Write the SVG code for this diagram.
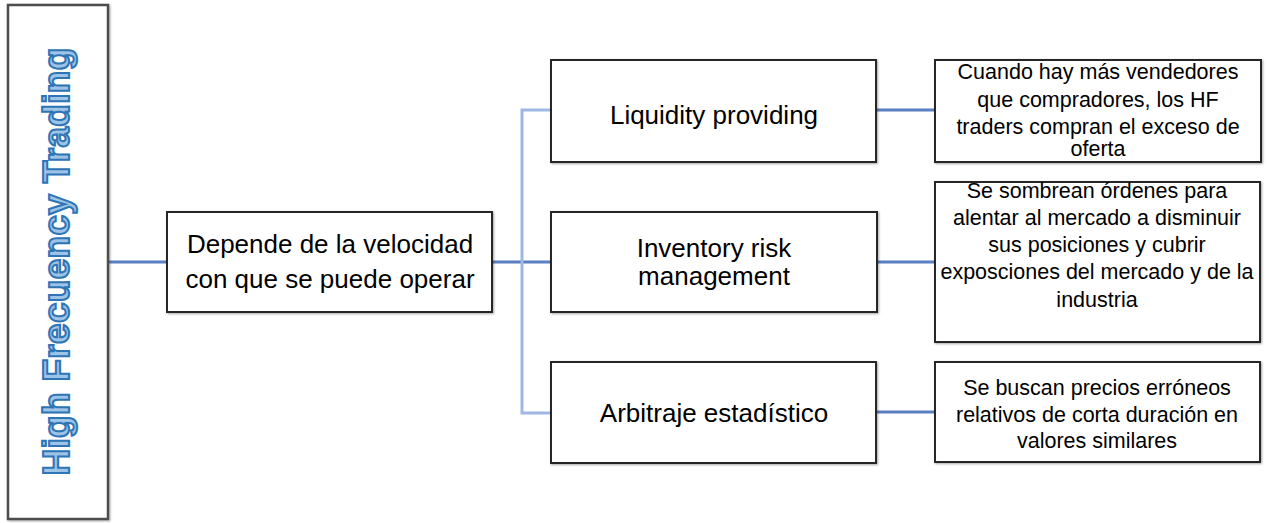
<svg xmlns="http://www.w3.org/2000/svg" width="1268" height="523" viewBox="0 0 1268 523">
  <defs>
    <filter id="shadow" x="-5%" y="-5%" width="110%" height="110%">
      <feDropShadow dx="1" dy="1" stdDeviation="0.8" flood-color="#000" flood-opacity="0.35"/>
    </filter>
  </defs>
  <style>
    .box { fill: #ffffff; stroke: #262626; stroke-width: 2; filter: url(#shadow); }
    .root { fill: #ffffff; stroke: #4d4d4d; stroke-width: 2.5; filter: url(#shadow); }
    .link { fill: none; stroke: #5a7ec2; stroke-width: 3; }
    .trunk { fill: none; stroke: #9fb8e3; stroke-width: 3; }
    .title { font-family: "Liberation Sans", Arial, sans-serif; font-weight: bold; font-size: 37px; fill: #9dc3e6; stroke: #2e75b6; stroke-width: 2; paint-order: normal; text-anchor: middle; letter-spacing: 0.3px; }
    .mid { font-family: "Liberation Sans", Arial, sans-serif; font-size: 26px; fill: #000; text-anchor: middle; }
    .note { font-family: "Liberation Sans", Arial, sans-serif; font-size: 21.5px; fill: #000; text-anchor: middle; }
  </style>

  <!-- connectors -->
  <g id="connectors">
    <line class="link" x1="108" y1="262" x2="167" y2="262"/>
    <line class="link" x1="492" y1="262" x2="551" y2="262"/>
    <polyline class="trunk" points="551,110 522,110 522,413 551,413"/>
    <line class="link" x1="876" y1="110" x2="935" y2="110"/>
    <line class="link" x1="876" y1="262" x2="935" y2="262"/>
    <line class="link" x1="876" y1="412" x2="935" y2="412"/>
  </g>

  <!-- root: vertical title -->
  <g id="node-hft">
    <rect class="root" x="8" y="5" width="100" height="514"/>
    <text class="title" transform="translate(69,261.5) rotate(-90)">High Frecuency Trading</text>
  </g>

  <g id="node-velocidad">
    <rect class="box" x="167" y="212" width="325" height="100"/>
    <text class="mid" x="330" y="253">Depende de la velocidad</text>
    <text class="mid" x="330" y="288">con que se puede operar</text>
  </g>

  <g id="node-liquidity">
    <rect class="box" x="551" y="60" width="325" height="102"/>
    <text class="mid" x="714" y="124">Liquidity providing</text>
  </g>

  <g id="node-inventory">
    <rect class="box" x="551" y="212" width="326" height="100"/>
    <text class="mid" x="714" y="257">Inventory risk</text>
    <text class="mid" x="714" y="285">management</text>
  </g>

  <g id="node-arbitraje">
    <rect class="box" x="551" y="362" width="325" height="101"/>
    <text class="mid" x="714" y="422">Arbitraje estadístico</text>
  </g>

  <g id="note-liquidity">
    <rect class="box" x="935" y="60" width="326" height="102"/>
    <text class="note" x="1098" y="79">Cuando hay más vendedores</text>
    <text class="note" x="1098" y="107">que compradores, los HF</text>
    <text class="note" x="1098" y="134">traders compran el exceso de</text>
    <text class="note" x="1098" y="156">oferta</text>
  </g>

  <g id="note-inventory">
    <rect class="box" x="935" y="182" width="325" height="160"/>
    <text class="note" x="1097" y="198">Se sombrean órdenes para</text>
    <text class="note" x="1097" y="225">alentar al mercado a disminuir</text>
    <text class="note" x="1097" y="252">sus posiciones y cubrir</text>
    <text class="note" x="1097" y="279">exposciones del mercado y de la</text>
    <text class="note" x="1097" y="307">industria</text>
  </g>

  <g id="note-arbitraje">
    <rect class="box" x="935" y="362" width="325" height="100"/>
    <text class="note" x="1097" y="395">Se buscan precios erróneos</text>
    <text class="note" x="1097" y="422">relativos de corta duración en</text>
    <text class="note" x="1097" y="448">valores similares</text>
  </g>
</svg>
